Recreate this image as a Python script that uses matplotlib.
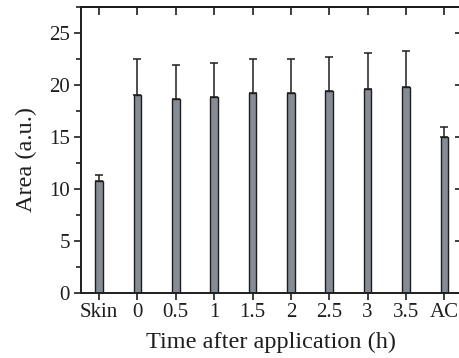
import numpy as np
import matplotlib.pyplot as plt
from matplotlib.ticker import MultipleLocator

# values
labels = ['Skin', '0', '0.5', '1', '1.5', '2', '2.5', '3', '3.5', 'AC']
area = [10.8, 19.05, 18.65, 18.85, 19.2, 19.2, 19.4, 19.6, 19.8, 15.0]
err = [0.55, 3.45, 3.25, 3.3, 3.3, 3.3, 3.3, 3.5, 3.5, 0.95]

plt.rcParams['font.family'] = ['Liberation Serif', 'DejaVu Serif']

fig = plt.figure(figsize=(4.6, 3.58), dpi=100)
ax = fig.add_axes([0.176, 0.1816, 0.826, 0.7989])

x = np.arange(len(labels))
ax.bar(x, area, width=0.2, color='#868c93', edgecolor='#1e1e1e', linewidth=1.0,
       yerr=[np.zeros(len(err)), err], error_kw=dict(ecolor='#1e1e1e', elinewidth=1.1,
       capsize=2.6, capthick=1.1), zorder=2)

ax.set_xlim(-0.47, 9.43)
ax.set_ylim(0, 27.5)
ax.set_xticks(x)
ax.set_xticklabels(labels)
ax.yaxis.set_major_locator(MultipleLocator(5))
ax.yaxis.set_minor_locator(MultipleLocator(2.5))

for s in ax.spines.values():
    s.set_linewidth(1.4)
    s.set_color('#1e1e1e')

ax.tick_params(axis='both', which='major', direction='out', length=5, width=1.2,
               labelsize=15, colors='#1e1e1e')
ax.tick_params(axis='x', which='major', pad=2)
ax.tick_params(axis='y', which='major', pad=3)
ax.tick_params(axis='y', which='minor', direction='out', length=3.5, width=1.2,
               colors='#1e1e1e')

top = ax.secondary_xaxis('top')
top.set_xticks(x)
top.tick_params(direction='in', length=5.8, width=1.2, labeltop=False, colors='#1e1e1e')
right = ax.secondary_yaxis('right')
right.yaxis.set_major_locator(MultipleLocator(5))
right.tick_params(direction='in', length=4, width=1.2, labelright=False, colors='#1e1e1e')
for sa in (top, right):
    for s in sa.spines.values():
        s.set_linewidth(1.4)

ax.set_xlabel('Time after application (h)', fontsize=17.5, color='#1e1e1e')
ax.set_ylabel('Area (a.u.)', fontsize=17.5, color='#1e1e1e')
ax.xaxis.set_label_coords(0.5, -0.135)
ax.yaxis.set_label_coords(-0.116, 0.465)

fig.savefig('out.png', dpi=100)
